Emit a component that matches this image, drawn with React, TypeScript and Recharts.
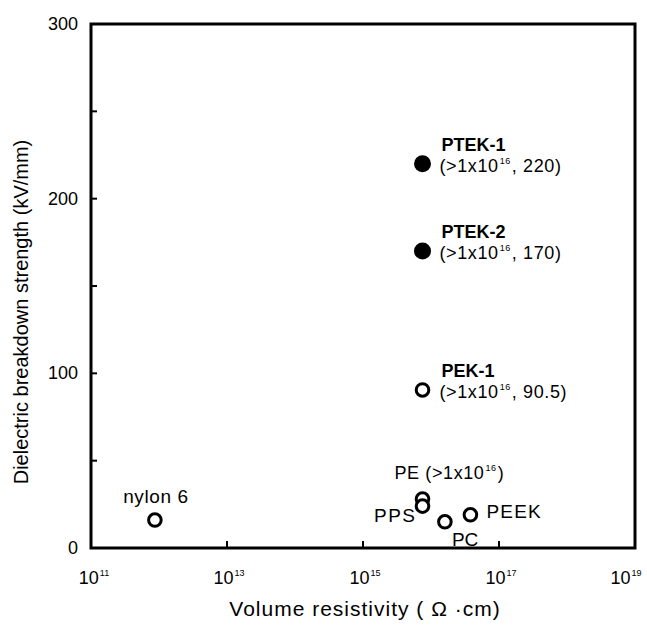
import { ScatterChart, Scatter, XAxis, YAxis, ReferenceArea } from "recharts";

const materials = ["PTEK-1", "PTEK-2", "PEK-1", "PE", "PPS", "PC", "PEEK", "nylon 6"];
const resistivity = [7.5e15, 7.5e15, 7.5e15, 7.5e15, 7.5e15, 1.6e16, 3.8e16, 8.7e11];
const breakdown = [220, 170, 90.5, 28, 24, 15, 19, 16];
const filledMaterials = ["PTEK-1", "PTEK-2"];
const xTicks = [1e11, 1e13, 1e15, 1e17, 1e19];
const yTicks = [0, 50, 100, 150, 200, 250, 300];
const yLabelTicks = [0, 100, 200, 300];

const FONT = "'Liberation Sans', Arial, Helvetica, sans-serif";

const points = materials.map((name, i) => ({ name, x: resistivity[i], y: breakdown[i] }));
const filled = points.filter(p => filledMaterials.includes(p.name));
const open = points.filter(p => !filledMaterials.includes(p.name));

// tiny superscript exponent, then back to the baseline
const Sup = ({ exp, rest }: { exp: number; rest: string }) => (
  <>
    <tspan fontSize={9} dx={1} dy={-8}>{exp}</tspan>
    <tspan dx={1} dy={8}>{rest}</tspan>
  </>
);

const annotate = (name: string, cx: number, cy: number, value: number) => {
  const fs = 18;
  if (name === "PTEK-1" || name === "PTEK-2" || name === "PEK-1") {
    return (
      <g fontFamily={FONT} fill="#000">
        <text x={cx + 19} y={cy - 13} fontSize={fs} fontWeight="bold">{name}</text>
        <text x={cx + 17} y={cy + 8} fontSize={fs} letterSpacing={0.6}>
          (&gt;1x10<Sup exp={16} rest={`, ${value})`} />
        </text>
      </g>
    );
  }
  if (name === "PE") {
    return (
      <text x={cx - 28} y={cy - 20} fontSize={fs} fontFamily={FONT} fill="#000" letterSpacing={0.6}>
        PE (&gt;1x10<Sup exp={16} rest=")" />
      </text>
    );
  }
  if (name === "PPS") return <text x={cx - 6} y={cy + 16} fontSize={19} fontFamily={FONT} textAnchor="end" letterSpacing={1.5}>{name}</text>;
  if (name === "PC") return <text x={cx + 7} y={cy + 24} fontSize={19} fontFamily={FONT}>{name}</text>;
  if (name === "PEEK") return <text x={cx + 16} y={cy + 3} fontSize={19} fontFamily={FONT} letterSpacing={1.2}>{name}</text>;
  return <text x={cx + 1} y={cy - 17} fontSize={19} fontFamily={FONT} textAnchor="middle" letterSpacing={0.6}>{name}</text>;
};

const FilledDot = (props: any) => (
  <g>
    <circle cx={props.cx} cy={props.cy} r={8.5} fill="#000" />
    {annotate(props.payload.name, props.cx, props.cy, props.payload.y)}
  </g>
);

const OpenDot = (props: any) => (
  <g>
    <circle cx={props.cx} cy={props.cy} r={6.3} fill="#fff" stroke="#000" strokeWidth={3} />
    {annotate(props.payload.name, props.cx, props.cy, props.payload.y)}
  </g>
);

const XTick = (props: any) => {
  const { x, y, payload } = props;
  const exp = Math.round(Math.log10(payload.value));
  const first = payload.value === xTicks[0];
  const last = payload.value === xTicks[xTicks.length - 1];
  const lx = last ? x - 9 : first ? x + 3 : x + 2;
  return (
    <g>
      {!first && !last && <line x1={x} x2={x} y1={y} y2={y - 7} stroke="#000" strokeWidth={2} />}
      <text x={lx} y={y + 36} fontSize={18} fontFamily={FONT} textAnchor="middle" fill="#000">
        10<tspan fontSize={9} dx={1} dy={-8}>{exp}</tspan>
      </text>
    </g>
  );
};

const YTick = (props: any) => {
  const { x, y, payload } = props;
  const inner = payload.value !== 0 && payload.value !== 300;
  return (
    <g>
      {inner && <line x1={x} x2={x + 6} y1={y} y2={y} stroke="#000" strokeWidth={2} />}
      {yLabelTicks.includes(payload.value) && (
        <text x={x - 13} y={y + 6} fontSize={18} fontFamily={FONT} textAnchor="end" fill="#000">
          {payload.value}
        </text>
      )}
    </g>
  );
};

export default function App() {
  return (
    <div style={{ position: "absolute", left: 0, top: 0, background: "#fff" }}>
      <ScatterChart width={647} height={633} margin={{ top: 24, right: 12, bottom: 35, left: 31 }}>
        <XAxis
          type="number"
          dataKey="x"
          scale="log"
          domain={[1e11, 1e19]}
          ticks={xTicks}
          interval={0}
          allowDataOverflow
          axisLine={false}
          tickLine={false}
          tickSize={0}
          tickMargin={0}
          height={50}
          tick={<XTick />}
          label={{
            content: (p: any) => (
              <text x={365} y={p.viewBox.y + 68} fontSize={21} fontFamily={FONT} textAnchor="middle" fill="#000" letterSpacing={1}>
                Volume resistivity ( Ω ·cm)
              </text>
            ),
          }}
        />
        <YAxis
          type="number"
          dataKey="y"
          domain={[0, 300]}
          ticks={yTicks}
          interval={0}
          axisLine={false}
          tickLine={false}
          tickSize={0}
          tickMargin={0}
          width={60}
          tick={<YTick />}
          label={{
            content: (p: any) => {
              const cx = 21;
              const cy = p.viewBox.y + p.viewBox.height / 2 + 26;
              return (
                <text x={cx} y={cy} fontSize={20} fontFamily={FONT} textAnchor="middle" dominantBaseline="central" fill="#000" transform={`rotate(-90 ${cx} ${cy})`}>
                  Dielectric breakdown strength (kV/mm)
                </text>
              );
            },
          }}
        />
        <ReferenceArea x1={1e11} x2={1e19} y1={0} y2={300} fill="none" stroke="#000" strokeWidth={3} />
        <Scatter data={open} shape={<OpenDot />} isAnimationActive={false} />
        <Scatter data={filled} shape={<FilledDot />} isAnimationActive={false} />
      </ScatterChart>
    </div>
  );
}
